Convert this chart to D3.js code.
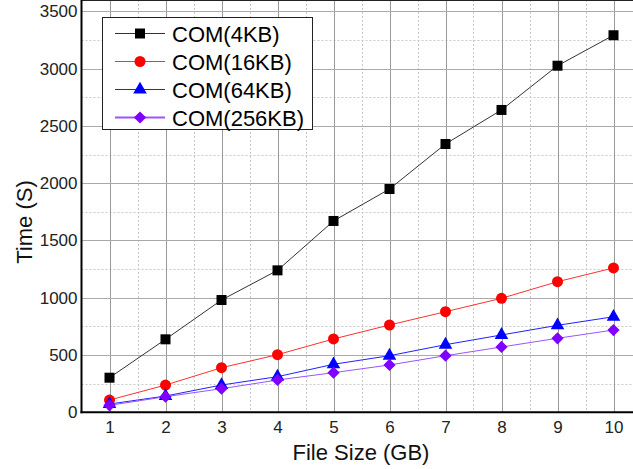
<!DOCTYPE html>
<html>
<head>
<meta charset="utf-8">
<script src="https://cdn.jsdelivr.net/npm/d3@7"></script>
<style>
  body { margin: 0; background: #fff; }
  svg { display: block; font-family: "Liberation Sans", Arial, sans-serif; }
  .tick_label { font-size: 17px; fill: #222; }
  .axis_tag { font-size: 22px; fill: #111; }
  .tag { font-size: 22px; fill: #000; }
</style>
</head>
<body>
<div class="chart"></div>
<script>
// data
var sizes = [1, 2, 3, 4, 5, 6, 7, 8, 9, 10]
var com4 = [302, 637, 980, 1239, 1670, 1949, 2342, 2639, 3025, 3291]
var com16 = [107, 238, 389, 503, 640, 762, 878, 995, 1140, 1260]
var com64 = [72, 142, 238, 311, 419, 494, 590, 675, 759, 834]
var com256 = [61, 136, 206, 282, 346, 413, 494, 570, 646, 718]
var names = ["COM(4KB)", "COM(16KB)", "COM(64KB)", "COM(256KB)"]
var yTicks = [0, 500, 1000, 1500, 2000, 2500, 3000, 3500]

var series = [
  { name: names[0], values: com4, line: "#333", fill: "#000", shape: d3.symbolSquare, size: 100, rot: 0 },
  { name: names[1], values: com16, line: "#ff3030", fill: "#ff0000", shape: d3.symbolCircle, size: 95, rot: 0 },
  { name: names[2], values: com64, line: "#2020ff", fill: "#0000ff", shape: d3.symbolTriangle, size: 80, rot: 0 },
  { name: names[3], values: com256, line: "#9955ff", fill: "#7f00ff", shape: d3.symbolSquare, size: 75, rot: 45 }
]

let svg = d3.select('div.chart').append('svg')
  .attr('width', 633)
  .attr('height', 469)

//Scale
let x = d3.scaleLinear().domain([0.5, 10.5]).range([81.5, 641.5])
let y = d3.scaleLinear().domain([0, 3500]).range([412.3, 11.3])

//grid minor
let minorX = sizes.map(d => d + 0.5)
let minorY = yTicks.map(d => d + 250)
svg.append('g').selectAll('line')
  .data(minorX).enter().append('line')
  .attr('x1', d => Math.round(x(d)) + 0.5).attr('x2', d => Math.round(x(d)) + 0.5)
  .attr('y1', 0).attr('y2', y(0))
  .attr('stroke', '#c8c8c8').attr('stroke-dasharray', '2,2')
svg.append('g').selectAll('line')
  .data(minorY).enter().append('line')
  .attr('x1', x(0.5)).attr('x2', 633)
  .attr('y1', d => Math.round(y(d)) + 0.5).attr('y2', d => Math.round(y(d)) + 0.5)
  .attr('stroke', '#c8c8c8').attr('stroke-dasharray', '2,2')

//grid major
svg.append('g').selectAll('line')
  .data(sizes).enter().append('line')
  .attr('x1', d => Math.round(x(d)) + 0.5).attr('x2', d => Math.round(x(d)) + 0.5)
  .attr('y1', 0).attr('y2', y(0))
  .attr('stroke', '#999')
svg.append('g').selectAll('line')
  .data(yTicks.slice(1)).enter().append('line')
  .attr('x1', x(0.5)).attr('x2', 633)
  .attr('y1', d => Math.round(y(d)) + 0.5).attr('y2', d => Math.round(y(d)) + 0.5)
  .attr('stroke', '#aaa')

//frame
svg.append('line').attr('x1', x(0.5)).attr('x2', 633).attr('y1', 0.5).attr('y2', 0.5)
  .attr('stroke', '#222')

//Axis_x
let xAxis = svg.append('g')
  .attr('transform', 'translate(0,' + y(0) + ')')
  .call(d3.axisBottom(x).tickValues(sizes).tickSize(0).tickPadding(9).tickFormat(d3.format('d')))
xAxis.select('.domain').attr('stroke', '#000').attr('stroke-width', 2)
  .attr('d', 'M' + (x(0.5) - 1) + ',0H633')
xAxis.selectAll('text').attr('class', 'tick_label').attr('font-family', null).attr('font-size', null)

//Axis_y
let yAxis = svg.append('g')
  .attr('transform', 'translate(' + x(0.5) + ',0)')
  .call(d3.axisLeft(y).tickValues(yTicks).tickSize(0).tickPadding(4).tickFormat(d3.format('d')))
yAxis.select('.domain').attr('stroke', '#000').attr('stroke-width', 2)
  .attr('d', 'M0,0V' + (y(0) + 1))
yAxis.selectAll('text').attr('class', 'tick_label').attr('font-family', null).attr('font-size', null)

svg.append('text')
  .attr('class', 'axis_tag')
  .attr('text-anchor', 'middle')
  .attr('x', 361).attr('y', 460)
  .text('File Size (GB)')

svg.append('text')
  .attr('class', 'axis_tag')
  .attr('text-anchor', 'middle')
  .attr('transform', 'translate(32,222) rotate(-90)')
  .text('Time (S)')

//lines + markers
let line = d3.line().x((d, i) => x(sizes[i])).y(d => y(d))
series.forEach(s => {
  svg.append('path')
    .attr('d', line(s.values))
    .attr('fill', 'none')
    .attr('stroke', s.line)
    .attr('stroke-width', 1)
})
series.forEach(s => {
  svg.append('g').selectAll('path')
    .data(s.values).enter().append('path')
    .attr('d', d3.symbol().type(s.shape).size(s.size))
    .attr('transform', (d, i) => 'translate(' + x(sizes[i]) + ',' + y(d) + ') rotate(' + s.rot + ')')
    .attr('fill', s.fill)
})

//legend
let legend = svg.append('g')
legend.append('rect')
  .attr('x', 102.5).attr('y', 17.5).attr('width', 210).attr('height', 112)
  .attr('fill', '#fff').attr('stroke', '#222')
series.forEach((s, i) => {
  let ly = 33.5 + i * 28
  legend.append('line')
    .attr('x1', 115).attr('x2', 165).attr('y1', ly).attr('y2', ly)
    .attr('stroke', s.line)
    .attr('stroke-width', i == 3 ? 2 : 1)
  legend.append('path')
    .attr('d', d3.symbol().type(s.shape).size(s.size))
    .attr('transform', 'translate(140,' + ly + ') rotate(' + s.rot + ')')
    .attr('fill', s.fill)
  legend.append('text')
    .attr('class', 'tag')
    .attr('x', 172).attr('y', ly + 8)
    .text(s.name)
})
</script>
</body>
</html>
